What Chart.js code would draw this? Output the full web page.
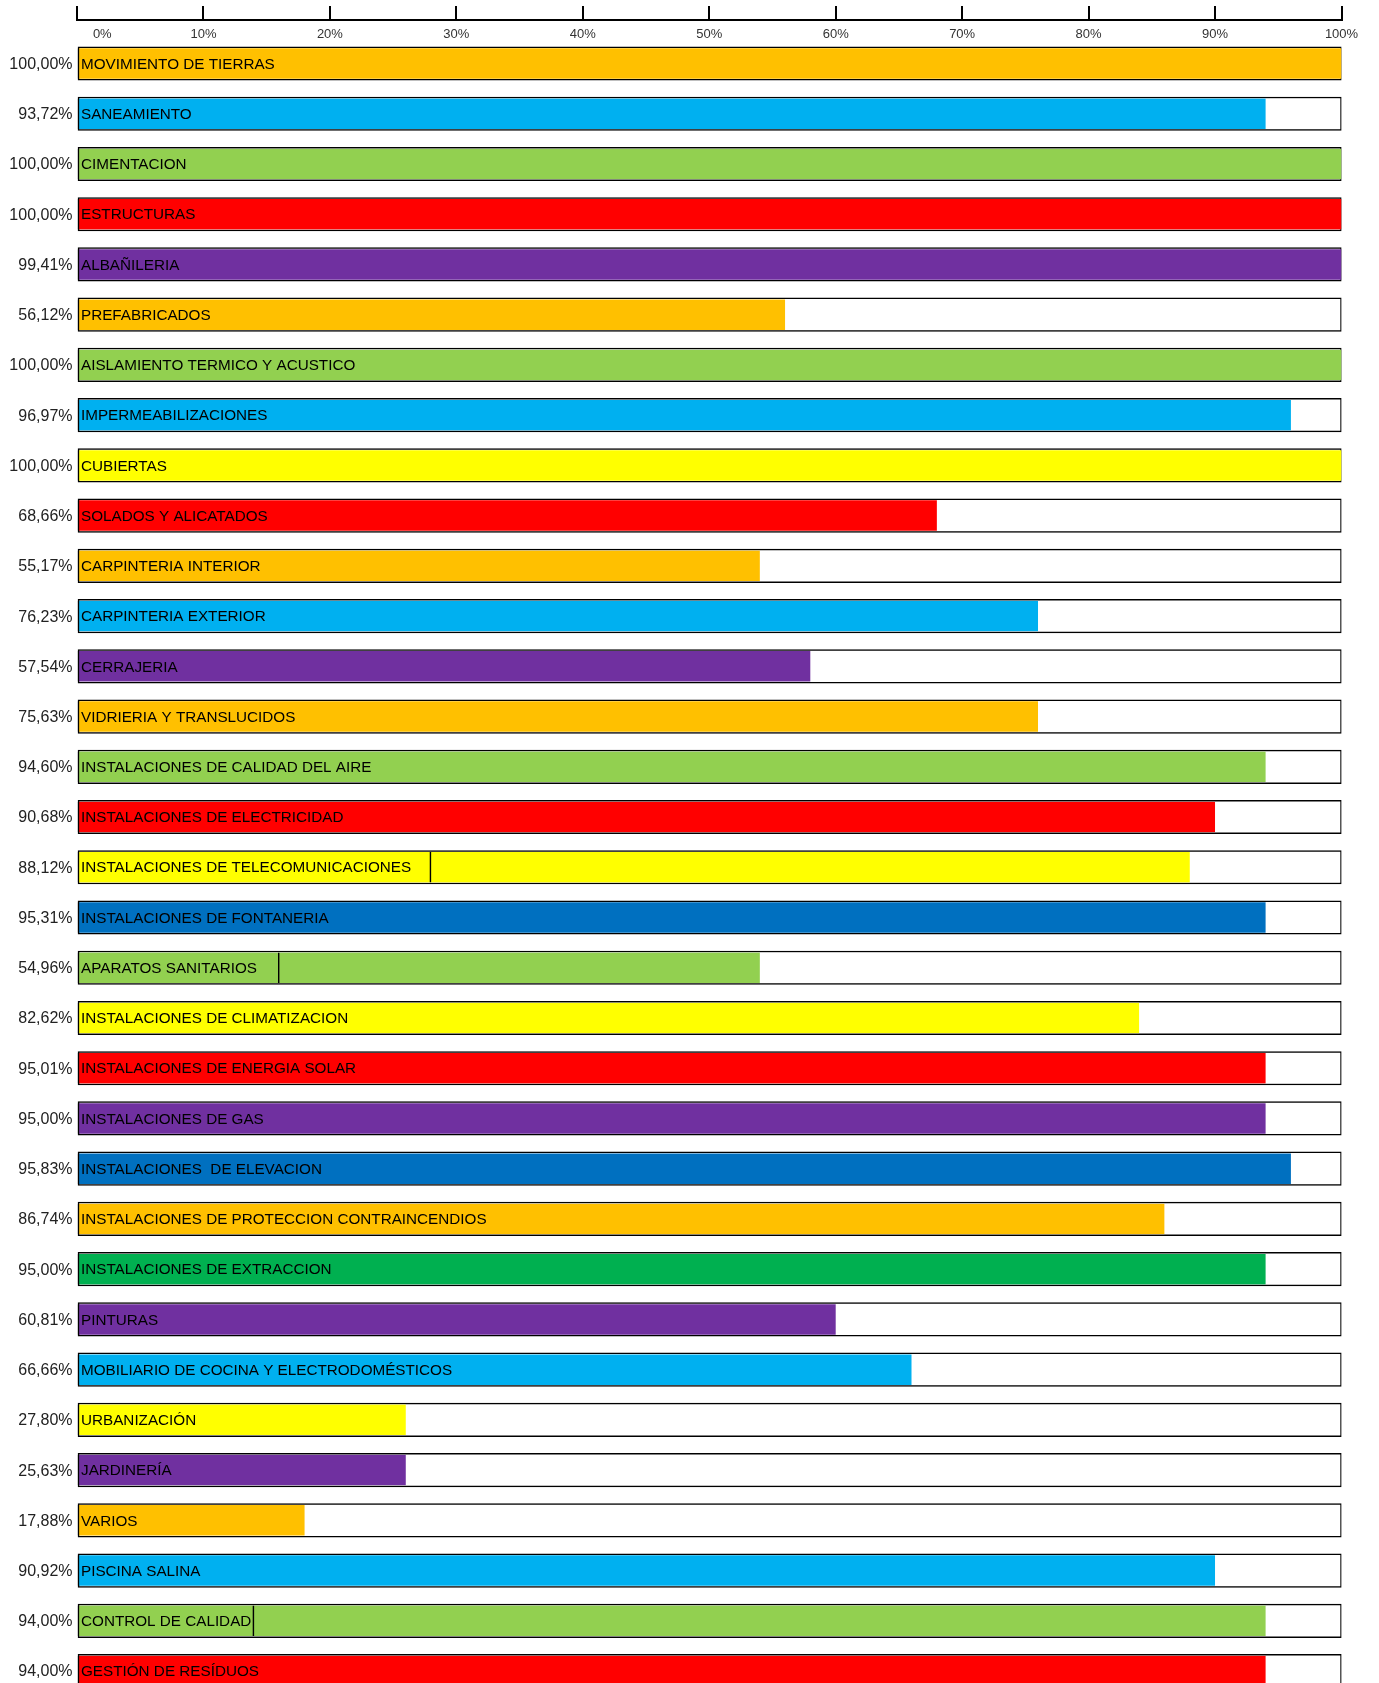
<!DOCTYPE html>
<html>
<head>
<meta charset="utf-8">
<script src="https://cdn.jsdelivr.net/npm/chart.js@4.4.1/dist/chart.umd.min.js"></script>
<style>
html,body{margin:0;padding:0;background:#fff;overflow:hidden}
canvas{display:block}
</style>
</head>
<body>
<canvas id="c" width="1379" height="1683"></canvas>
<script>
// ---- data ----
const categories = [
  "MOVIMIENTO DE TIERRAS","SANEAMIENTO","CIMENTACION","ESTRUCTURAS","ALBAÑILERIA",
  "PREFABRICADOS","AISLAMIENTO TERMICO Y ACUSTICO","IMPERMEABILIZACIONES","CUBIERTAS",
  "SOLADOS Y ALICATADOS","CARPINTERIA INTERIOR","CARPINTERIA EXTERIOR","CERRAJERIA",
  "VIDRIERIA Y TRANSLUCIDOS","INSTALACIONES DE CALIDAD DEL AIRE","INSTALACIONES DE ELECTRICIDAD",
  "INSTALACIONES DE TELECOMUNICACIONES","INSTALACIONES DE FONTANERIA","APARATOS SANITARIOS",
  "INSTALACIONES DE CLIMATIZACION","INSTALACIONES DE ENERGIA SOLAR","INSTALACIONES DE GAS",
  "INSTALACIONES  DE ELEVACION","INSTALACIONES DE PROTECCION CONTRAINCENDIOS",
  "INSTALACIONES DE EXTRACCION","PINTURAS","MOBILIARIO DE COCINA Y ELECTRODOMÉSTICOS",
  "URBANIZACIÓN","JARDINERÍA","VARIOS","PISCINA SALINA","CONTROL DE CALIDAD","GESTIÓN DE RESÍDUOS"
];
// percentages printed left of each bar
const completion = [
  100.00, 93.72, 100.00, 100.00, 99.41, 56.12, 100.00, 96.97, 100.00, 68.66,
  55.17, 76.23, 57.54, 75.63, 94.60, 90.68, 88.12, 95.31, 54.96, 82.62,
  95.01, 95.00, 95.83, 86.74, 95.00, 60.81, 66.66, 27.80, 25.63, 17.88,
  90.92, 94.00, 94.00
];
// drawn bar lengths as measured on the picture (%)
const barValues = [
  100, 94, 100, 100, 100, 56, 100, 96, 100, 68,
  54, 76, 58, 76, 94, 90, 88, 94, 54, 84,
  94, 94, 96, 86, 94, 60, 66, 26, 26, 18,
  90, 94, 94
];
// end of the label box drawn inside some bars (%), null = none
const labelBoxEnds = [
  null,null,null,null,null,null,null,null,null,null,
  null,null,null,null,null,null,28,null,16,null,
  null,null,null,null,null,null,null,null,null,null,
  null,14,null
];
const ORANGE="#FFC000", LBLUE="#00B0F0", GREEN="#92D050", RED="#FF0000",
      PURPLE="#7030A0", YELLOW="#FFFF00", DBLUE="#0070C0", DGREEN="#00B050";
const barColors = [
  ORANGE, LBLUE, GREEN, RED, PURPLE, ORANGE, GREEN, LBLUE, YELLOW, RED,
  ORANGE, LBLUE, PURPLE, ORANGE, GREEN, RED, YELLOW, DBLUE, GREEN, YELLOW,
  RED, PURPLE, DBLUE, ORANGE, DGREEN, PURPLE, LBLUE, YELLOW, PURPLE, ORANGE,
  LBLUE, GREEN, RED
];
const xTicks = [0,10,20,30,40,50,60,70,80,90,100];

// ---- chart ----
const FONT = '"Liberation Sans", Arial, sans-serif';
const fmtPct = v => v.toFixed(2).replace('.', ',') + '%';
const scaleMax = xTicks[xTicks.length - 1];

const outlineData = categories.map((_, i) => ({x: scaleMax, y: i}));
const fillData = barValues.map((v, i) => ({x: v, y: i}));
const boxData = labelBoxEnds.map((v, i) => v === null ? null : ({x: v, y: i})).filter(d => d);

const categoryNames = {
  id: 'categoryNames',
  afterDatasetsDraw(chart) {
    const {ctx, scales: {x, y}} = chart;
    ctx.save();
    ctx.font = '15.25px ' + FONT;
    ctx.fillStyle = '#000';
    ctx.textAlign = 'left';
    ctx.textBaseline = 'middle';
    const x0 = x.getPixelForValue(0) + 4;
    categories.forEach((name, i) => {
      ctx.fillText(name, x0, y.getPixelForValue(i) + 1);
    });
    ctx.restore();
  }
};

new Chart(document.getElementById('c'), {
  type: 'bar',
  data: {
    datasets: [
      {
        label: 'box',
        data: outlineData,
        backgroundColor: '#fff',
        borderColor: '#000',
        borderWidth: 1.5,
        borderSkipped: false,
        barThickness: 33.5,
        grouped: false,
        order: 3
      },
      {
        label: 'avance',
        data: fillData,
        backgroundColor: barColors,
        borderColor: '#000',
        borderWidth: {top: 0, right: 0, bottom: 0, left: 1.5},
        borderSkipped: false,
        barThickness: 30.5,
        grouped: false,
        order: 2
      },
      {
        label: 'labelbox',
        data: boxData,
        backgroundColor: 'rgba(0,0,0,0)',
        borderColor: '#000',
        borderWidth: {top: 0, right: 1, bottom: 0, left: 0},
        borderSkipped: false,
        barThickness: 30.5,
        grouped: false,
        order: 1
      }
    ]
  },
  options: {
    indexAxis: 'y',
    responsive: false,
    animation: false,
    events: [],
    layout: {padding: {left: 0, right: 37.5, top: 0, bottom: 0}},
    plugins: {legend: {display: false}, tooltip: {enabled: false}},
    scales: {
      x: {
        type: 'linear',
        position: 'top',
        min: xTicks[0],
        max: scaleMax,
        bounds: 'data',
        afterBuildTicks: s => { s.ticks = xTicks.map(v => ({value: v})); },
        afterFit: s => { s.height = 20; s.paddingLeft = 0; s.paddingRight = 0; },
        grid: {drawOnChartArea: false, drawTicks: true, tickLength: 14, color: '#000', lineWidth: 2},
        border: {display: true, color: '#000', width: 2},
        ticks: {
          autoSkip: false,
          maxRotation: 0,
          mirror: true,
          padding: 6.5,
          color: '#333',
          font: {family: FONT, size: 13},
          callback: v => v === 0 ? '              0%' : v + '%'
        }
      },
      y: {
        type: 'linear',
        reverse: true,
        offset: false,
        bounds: 'data',
        min: -0.866,
        max: 32.238,
        afterBuildTicks: s => { s.ticks = categories.map((_, i) => ({value: i})); },
        afterFit: s => { s.width = 77; s.paddingTop = 0; s.paddingBottom = 0; },
        grid: {display: false, drawTicks: false},
        border: {display: false},
        ticks: {
          autoSkip: false,
          padding: 4.5,
          labelOffset: 1,
          color: '#222',
          font: {family: FONT, size: 16},
          callback: v => (Number.isInteger(v) && v >= 0 && v < completion.length) ? fmtPct(completion[v]) : ''
        }
      }
    }
  },
  plugins: [categoryNames]
});
</script>
</body>
</html>
